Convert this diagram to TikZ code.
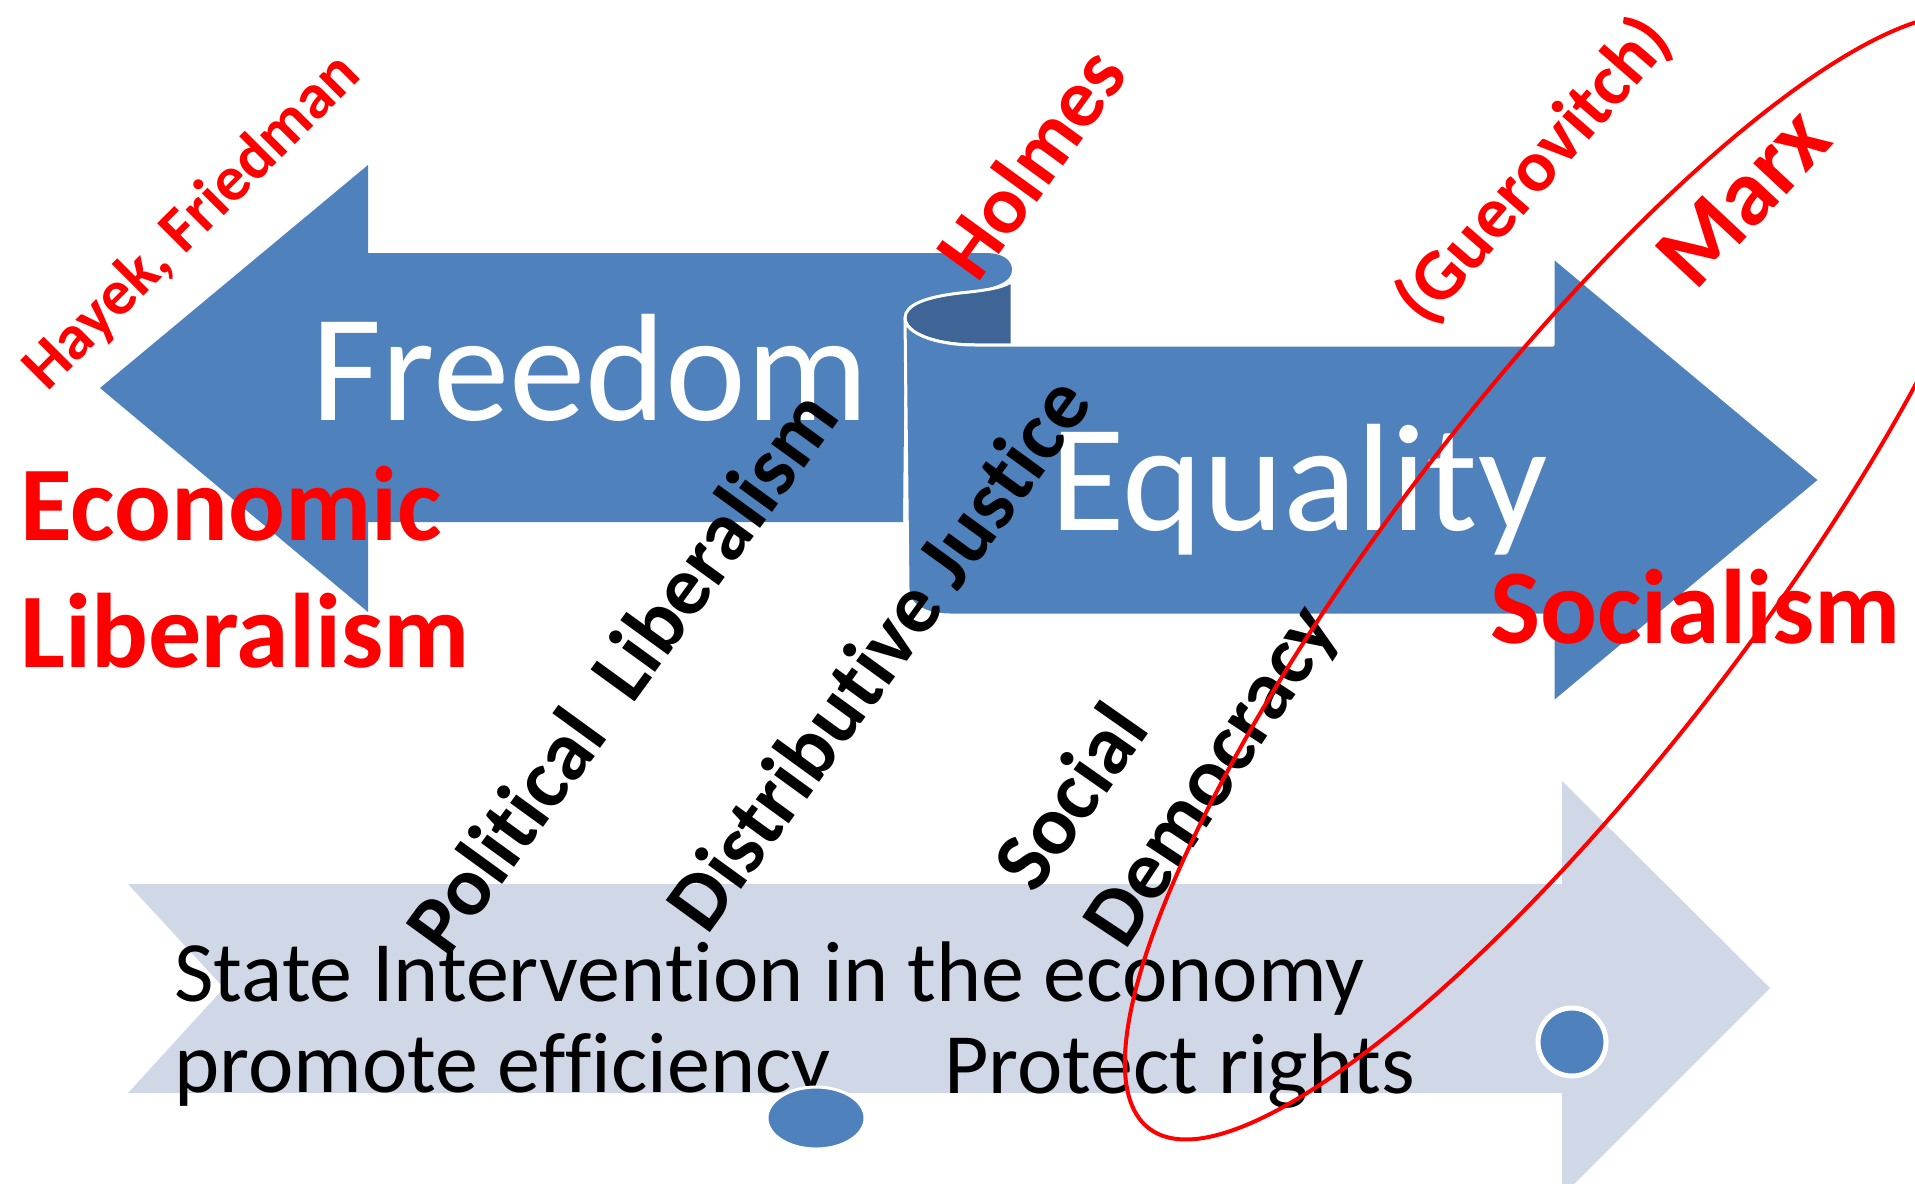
\documentclass[tikz,border=0pt]{standalone}
\usepackage{fontspec}
\setmainfont{Carlito}[Ligatures=NoCommon]
\definecolor{ablue}{HTML}{4F81BD}
\definecolor{adark}{HTML}{3F6596}
\definecolor{alight}{HTML}{D0D8E8}
\definecolor{ared}{HTML}{FF0000}
\tikzset{
  lbl/.style={inner sep=0pt, anchor=base west},
  bigwhite/.style={lbl, text=white, font=\fontsize{76.5}{90}\selectfont},
  redbig/.style={lbl, text=ared, font=\bfseries\fontsize{53}{62}\selectfont},
  redname/.style={lbl, text=ared, font=\bfseries\fontsize{#1}{#1}\selectfont},
  blackrot/.style={lbl, text=black, font=\bfseries\fontsize{42}{48}\selectfont},
  plain/.style={lbl, text=black, font=\fontsize{43}{50}\selectfont},
  seam/.style={draw=white, line width=1.5pt, line join=round},
  dot/.style={fill=ablue, draw=white, line width=#1},
  ring/.style={draw=ared, line width=2pt}
}
\begin{document}
\begin{tikzpicture}[x=0.5pt,y=-0.5pt]
\path[use as bounding box, clip] (0,0) rectangle (1915,1183);
\fill[white] (0,0) rectangle (1915,1183);
% light notched arrow
\fill[alight] (128,884) -- (1562,884) -- (1562,781) -- (1770,988) -- (1562,1196)
  -- (1562,1093) -- (128,1093) -- (224,988) -- cycle;
% Freedom arrow with top band of scroll
\fill[ablue] (100,388) -- (368,165) -- (368,253) -- (985,253)
  .. controls (1003,253) and (1012,260) .. (1012,270)
  .. controls (1012,282) and (995,289) .. (960,293)
  .. controls (925,297) and (905,305) .. (905,318)
  -- (903,522) -- (368,522) -- (368,612) -- cycle;
% inside of the scroll
\path[seam, fill=adark] (905,318) .. controls (905,305) and (925,297) .. (960,293)
  .. controls (990,290) and (1005,287) .. (1012,281) -- (1012,345) -- (975,345)
  .. controls (935,345) and (905,333) .. (905,318) -- cycle;
% Equality arrow
\path[seam, fill=ablue] (905,318) .. controls (905,333) and (935,345) .. (975,345)
  -- (1553,345) -- (1553,257) -- (1820,480) -- (1553,703) -- (1553,615)
  -- (950,615) .. controls (925,615) and (908,605) .. (908,590) -- cycle;
% texts in arrows
\node[bigwhite] (freedom) at (311,420) {Freedom};
\node[bigwhite] (equality) at (1050,530) {Equality};
\node[plain] (state) at (174,1001) {State Intervention in the economy};
\node[plain] (promote) at (174,1092) {promote efficiency};
\node[plain] (protect) at (944,1093) {Protect rights};
% dots
\path[dot=1.5pt] (816,1118) ellipse [x radius=24.5pt, y radius=15.5pt];
\node[circle, dot=2.5pt, minimum size=34pt, inner sep=0pt] (rdot) at (1572,1042) {};
% red labels
\node[redbig] (econ) at (20,540) {Economic};
\node[redbig] (lib) at (20,667) {Liberalism};
\node[redbig] (soc) at (1490,643) {Socialism};
\node[redname=32, rotate=45] (hayek) at (47,393) {Hayek, Friedman};
\node[redname=41.5, rotate=54] (holmes) at (977,285) {Holmes};
\node[redname=36.5, rotate=49] (guero) at (1426,328) {(Guerovitch)};
\node[redname=47, rotate=47] (marx) at (1695,293) {Marx};
% black rotated labels
\node[blackrot, rotate=54] (pol) at (447,960) {Political~~Liberalism};
\node[blackrot, rotate=54] (dist) at (707,937) {Distributive Justice};
\node[blackrot, rotate=55] (social) at (1035,896) {Social};
\node[blackrot, rotate=56.5] (demo) at (1125,952) {Democracy};
% red ellipse
\draw[ring, rotate around={52.5:(1572,577)}] (1572,577) ellipse [x radius=347.5pt, y radius=91pt];
\end{tikzpicture}
\end{document}
